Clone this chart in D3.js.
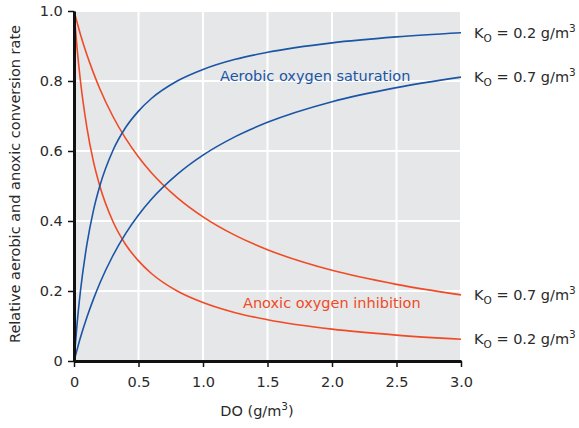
<!DOCTYPE html>
<html><head><meta charset="utf-8">
<script src="https://cdn.jsdelivr.net/npm/d3@7"></script>
<style>body{margin:0;background:#fff;} text{font-family:"DejaVu Sans",sans-serif;}</style>
</head><body>
<svg id="c" width="579" height="428"></svg>
<script>
// DO concentration (g/m3) sample points
const doValues = [0, 0.025, 0.05, 0.1, 0.15, 0.2, 0.3, 0.4, 0.5, 0.6, 0.8, 1.0, 1.25, 1.5, 2.0, 2.5, 3.0];
// Aerobic oxygen saturation, K_O = 0.2
const aerobicK02 = [0, 0.111, 0.2, 0.333, 0.429, 0.5, 0.6, 0.667, 0.714, 0.75, 0.8, 0.833, 0.862, 0.882, 0.909, 0.926, 0.938];
// Aerobic oxygen saturation, K_O = 0.7
const aerobicK07 = [0, 0.034, 0.067, 0.125, 0.176, 0.222, 0.3, 0.364, 0.417, 0.462, 0.533, 0.588, 0.641, 0.682, 0.741, 0.781, 0.811];
// Anoxic oxygen inhibition, K_O = 0.2
const anoxicK02 = [1, 0.889, 0.8, 0.667, 0.571, 0.5, 0.4, 0.333, 0.286, 0.25, 0.2, 0.167, 0.138, 0.118, 0.091, 0.074, 0.062];
// Anoxic oxygen inhibition, K_O = 0.7
const anoxicK07 = [1, 0.966, 0.933, 0.875, 0.824, 0.778, 0.7, 0.636, 0.583, 0.538, 0.467, 0.412, 0.359, 0.318, 0.259, 0.219, 0.189];
const xTicks = [0, 0.5, 1.0, 1.5, 2.0, 2.5, 3.0];
const xTickLabels = ["0", "0.5", "1.0", "1.5", "2.0", "2.5", "3.0"];
const yTicks = [0, 0.2, 0.4, 0.6, 0.8, 1.0];
const yTickLabels = ["0", "0.2", "0.4", "0.6", "0.8", "1.0"];
const rightLabels = [
  {k: "0.2", v: aerobicK02[aerobicK02.length-1]},
  {k: "0.7", v: aerobicK07[aerobicK07.length-1]},
  {k: "0.7", v: anoxicK07[anoxicK07.length-1]},
  {k: "0.2", v: anoxicK02[anoxicK02.length-1]}
];

const blue = "#1a55a6", red = "#f04a26";
const FS = 14.5;
const svg = d3.select("#c");
const x = d3.scaleLinear().domain([0, 3]).range([74, 461]);
const y = d3.scaleLinear().domain([0, 1]).range([361, 11]);

svg.append("rect").attr("x", x(0)).attr("y", y(1)).attr("width", x(3)-x(0)).attr("height", y(0)-y(1)).attr("fill", "#e6e7e8");

// grid
svg.append("g").selectAll("line").data(xTicks.slice(1)).join("line")
  .attr("x1", d => x(d)).attr("x2", d => x(d)).attr("y1", y(0)).attr("y2", y(1))
  .attr("stroke", "#fff").attr("stroke-width", 2);
svg.append("g").selectAll("line").data(yTicks.slice(1)).join("line")
  .attr("x1", x(0)).attr("x2", x(3)).attr("y1", d => y(d)).attr("y2", d => y(d))
  .attr("stroke", "#fff").attr("stroke-width", 2);

// curves
const line = d3.line().x((d, i) => x(doValues[i])).y(d => y(d)).curve(d3.curveMonotoneX);
[[anoxicK02, red], [anoxicK07, red], [aerobicK02, blue], [aerobicK07, blue]].forEach(([s, c]) => {
  svg.append("path").attr("d", line(s)).attr("fill", "none").attr("stroke", c).attr("stroke-width", 1.6);
});

// axes
const xAxis = svg.append("g").attr("transform", `translate(0,${y(0)})`)
  .call(d3.axisBottom(x).tickValues(xTicks).tickFormat((d, i) => xTickLabels[i]).tickSize(6).tickSizeOuter(0));
const yAxis = svg.append("g").attr("transform", `translate(${x(0)},0)`)
  .call(d3.axisLeft(y).tickValues(yTicks).tickFormat((d, i) => yTickLabels[i]).tickSize(6).tickSizeOuter(0));
[xAxis, yAxis].forEach(a => {
  a.select(".domain").attr("stroke", "#111").attr("stroke-width", 3);
  a.selectAll(".tick line").attr("stroke", "#111").attr("stroke-width", 1.5);
  a.selectAll(".tick text").attr("font-size", FS).attr("fill", "#2a2a2a").attr("font-family", "DejaVu Sans");
});
xAxis.selectAll(".tick text").attr("dy", "1.2em");
yAxis.selectAll(".tick text").attr("dx", "-0.15em");

// axis titles
const xt = svg.append("text").attr("x", 257).attr("y", 416).attr("text-anchor", "middle").attr("font-size", FS).attr("fill", "#2a2a2a");
xt.append("tspan").text("DO (g/m");
xt.append("tspan").attr("font-size", 10.5).attr("dy", -6).text("3");
xt.append("tspan").attr("dy", 6).text(")");
svg.append("text").attr("transform", "translate(20,184) rotate(-90)").attr("text-anchor", "middle")
  .attr("font-size", FS).attr("fill", "#2a2a2a").text("Relative aerobic and anoxic conversion rate");

// curve labels
svg.append("text").attr("x", 220).attr("y", 81).attr("font-size", FS).attr("fill", blue).text("Aerobic oxygen saturation");
svg.append("text").attr("x", 243).attr("y", 308).attr("font-size", FS).attr("fill", red).text("Anoxic oxygen inhibition");

// right labels
rightLabels.forEach(r => {
  const t = svg.append("text").attr("x", 474).attr("y", y(r.v) + 5).attr("font-size", FS).attr("fill", "#2a2a2a");
  t.append("tspan").text("K");
  t.append("tspan").attr("font-size", 10.5).attr("dy", 4).text("O");
  t.append("tspan").attr("dy", -4).text(` = ${r.k} g/m`);
  t.append("tspan").attr("font-size", 10.5).attr("dy", -6).text("3");
});
</script>
</body></html>
